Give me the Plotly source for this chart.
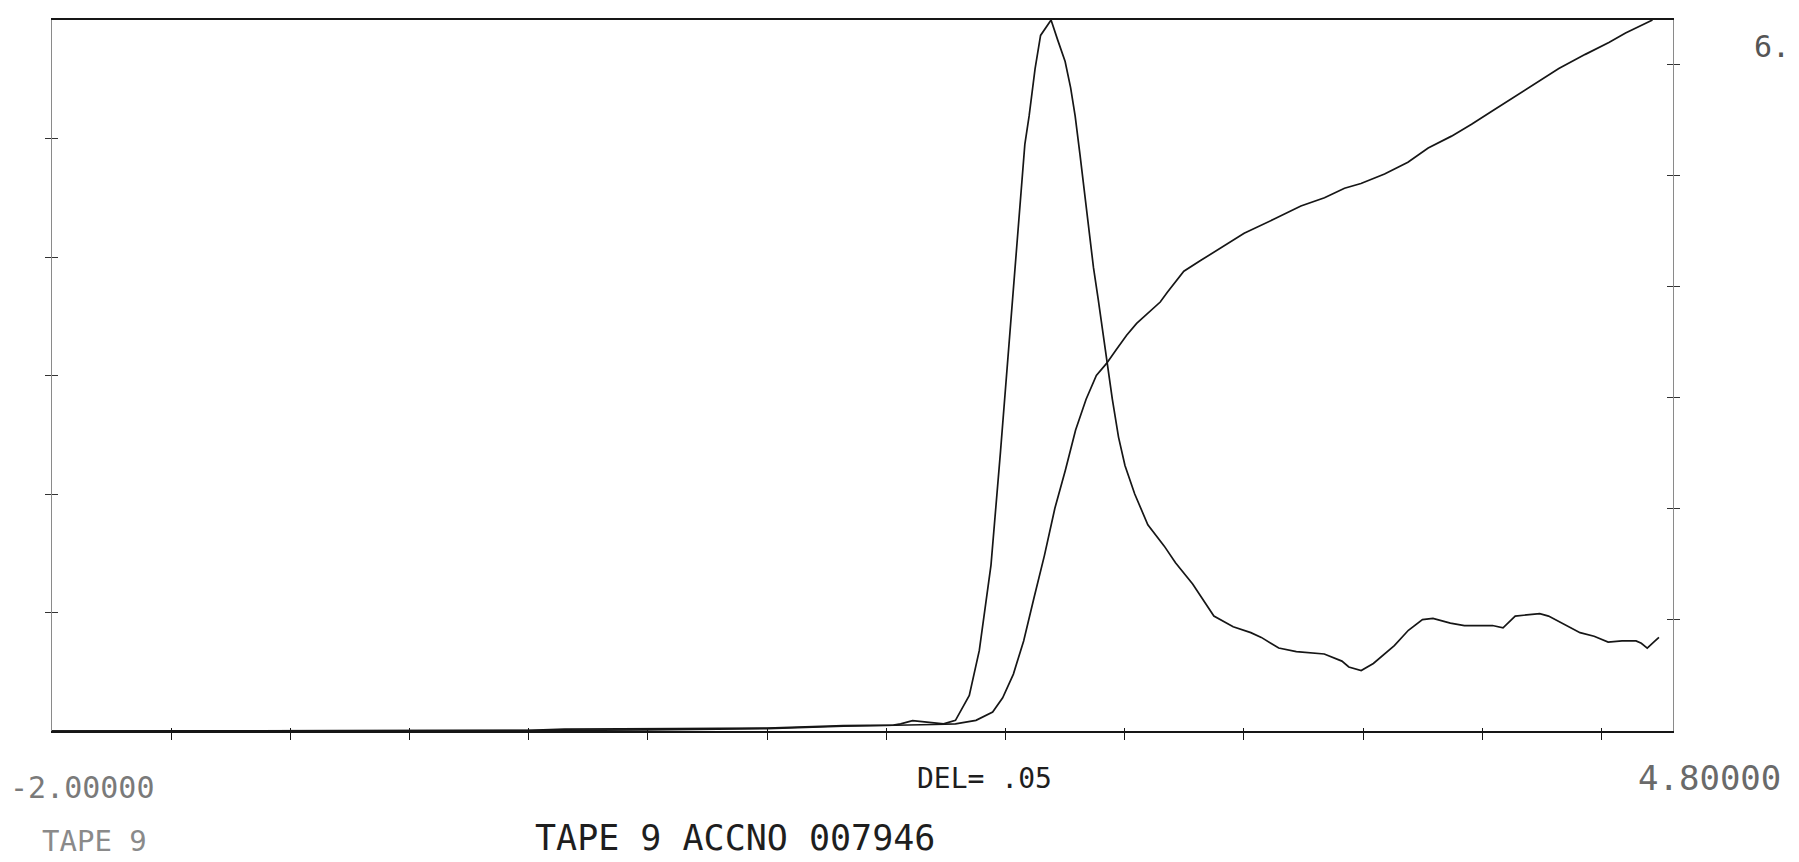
import plotly.graph_objects as go

# ---- data (x: -2.0 .. 4.8, y: 0 .. 6) ----
peak_x = [-2.0, -1.0, 0.0, 0.15, 0.37, 0.52, 0.62, 1.0, 1.32, 1.53, 1.56, 1.61, 1.67, 1.74,
          1.79, 1.848, 1.89, 1.939, 1.979, 2.010, 2.034, 2.058, 2.081, 2.099, 2.124, 2.147,
          2.191, 2.219, 2.250, 2.273, 2.292, 2.312, 2.344, 2.369, 2.389, 2.408, 2.428, 2.448,
          2.474, 2.501, 2.542, 2.597, 2.666, 2.713, 2.785, 2.874, 2.955, 3.029, 3.073, 3.146,
          3.220, 3.337, 3.411, 3.440, 3.492, 3.543, 3.631, 3.690, 3.749, 3.793, 3.866, 3.925,
          4.043, 4.087, 4.138, 4.190, 4.241, 4.278, 4.336, 4.410, 4.469, 4.528, 4.586, 4.645,
          4.667, 4.692, 4.719, 4.741]
peak_y = [0.0, 0.0, 0.005, 0.015, 0.015, 0.02, 0.02, 0.025, 0.045, 0.05, 0.06, 0.087, 0.075, 0.06,
          0.09, 0.30, 0.68, 1.40, 2.36, 3.16, 3.75, 4.39, 4.95, 5.19, 5.59, 5.87,
          6.0, 5.83, 5.65, 5.43, 5.19, 4.87, 4.31, 3.91, 3.64, 3.36, 3.08, 2.80,
          2.48, 2.24, 2.00, 1.74, 1.56, 1.42, 1.24, 0.97, 0.88, 0.83, 0.79, 0.70,
          0.67, 0.65, 0.59, 0.54, 0.51, 0.57, 0.72, 0.85, 0.94, 0.95, 0.91, 0.89,
          0.89, 0.87, 0.97, 0.98, 0.99, 0.97, 0.91, 0.83, 0.80, 0.75, 0.76, 0.76,
          0.74, 0.70, 0.75, 0.79]

cum_x = [-2.0, -1.0, 0.0, 0.5, 1.0, 1.32, 1.53, 1.6, 1.7, 1.79, 1.876, 1.946, 1.988, 2.033,
         2.076, 2.119, 2.163, 2.207, 2.251, 2.294, 2.338, 2.381, 2.423, 2.465, 2.508, 2.550,
         2.593, 2.649, 2.678, 2.748, 2.818, 2.888, 3.001, 3.127, 3.239, 3.338, 3.422, 3.491,
         3.590, 3.688, 3.773, 3.871, 3.955, 4.040, 4.095, 4.208, 4.321, 4.432, 4.531, 4.601,
         4.714]
cum_y = [0.0, 0.0, 0.003, 0.01, 0.02, 0.04, 0.045, 0.05, 0.055, 0.06, 0.09, 0.16, 0.28, 0.48,
         0.76, 1.12, 1.48, 1.88, 2.20, 2.54, 2.80, 3.00, 3.10, 3.22, 3.34, 3.44,
         3.52, 3.62, 3.70, 3.88, 3.97, 4.06, 4.20, 4.32, 4.43, 4.50, 4.58, 4.62,
         4.70, 4.80, 4.92, 5.02, 5.12, 5.23, 5.30, 5.45, 5.59, 5.71, 5.81, 5.89,
         6.0]

x_ticks = [-1.5, -1.0, -0.5, 0.0, 0.5, 1.0, 1.5, 2.0, 2.5, 3.0, 3.5, 4.0, 4.5]
left_ticks = [1, 2, 3, 4, 5]
right_ticks = [1, 2, 3, 4, 5, 6]

x_min_label = "-2.00000"
x_max_label = "4.80000"
y_max_label = "6."
del_label = "DEL= .05"
title_label = "TAPE 9 ACCNO 007946"
tape_label = "TAPE 9"

# ---- figure ----
W, H = 1799, 862
L, R, T, B = 52, 126, 20, 131
pw, ph = W - L - R, H - T - B

def px(x):
    return (x - L) / pw

def py(y):
    return (H - B - y) / ph

ink = "#161616"
fig = go.Figure()
fig.add_trace(go.Scatter(x=peak_x, y=peak_y, mode="lines",
                         line=dict(color=ink, width=1.7), hoverinfo="skip"))
fig.add_trace(go.Scatter(x=cum_x, y=cum_y, mode="lines",
                         line=dict(color=ink, width=1.7), hoverinfo="skip"))
# carriers for the extra tick axes (single points draw nothing)
for xa, ya in [("x2", "y"), ("x", "y2"), ("x", "y3"), ("x", "y4")]:
    fig.add_trace(go.Scatter(x=[-2.0], y=[0.0], mode="lines", xaxis=xa, yaxis=ya,
                             line=dict(color="rgba(0,0,0,0)"), hoverinfo="skip"))

common = dict(showgrid=False, zeroline=False, showticklabels=False)
fig.update_layout(
    width=W, height=H, margin=dict(l=L, r=R, t=T, b=B),
    paper_bgcolor="white", plot_bgcolor="white", showlegend=False,
    xaxis=dict(range=[-2.0, 4.8], tickvals=x_ticks, ticks="outside", ticklen=7,
               tickwidth=1.3, tickcolor=ink, showline=True, linecolor=ink,
               linewidth=1.6, mirror=True, **common),
    xaxis2=dict(range=[-2.0, 4.8], overlaying="x", matches="x", tickvals=x_ticks,
                ticks="inside", ticklen=3, tickwidth=1.3, tickcolor=ink,
                showline=False, **common),
    yaxis=dict(range=[0, 6], tickvals=left_ticks, ticks="outside", ticklen=6,
               tickwidth=1.3, tickcolor="#333", showline=True, linecolor="#8a8a8a",
               linewidth=1, **common),
    yaxis3=dict(range=[0, 6], overlaying="y", side="left", tickvals=left_ticks,
                ticks="inside", ticklen=6, tickwidth=1.3, tickcolor="#333",
                showline=False, **common),
    yaxis2=dict(range=[0, 6.4], overlaying="y", side="right", tickvals=right_ticks,
                ticks="outside", ticklen=6, tickwidth=1.3, tickcolor="#333",
                showline=True, linecolor="#8a8a8a", linewidth=1, **common),
    yaxis4=dict(range=[0, 6.4], overlaying="y", side="right", tickvals=right_ticks,
                ticks="inside", ticklen=6, tickwidth=1.3, tickcolor="#333",
                showline=False, **common),
)

mono = "DejaVu Sans Mono"
anns = [
    (x_min_label, 8, 787, 30, "#7a7a7a"),
    (tape_label, 40, 841, 29, "#8a8a8a"),
    (del_label, 915, 778, 28, "#1e1e1e"),
    (title_label, 533, 838, 35, "#1e1e1e"),
    (x_max_label, 1636, 778, 34, "#6a6a6a"),
    (y_max_label, 1752, 46, 30, "#555555"),
]
for text, x, y, size, color in anns:
    fig.add_annotation(text=text, xref="paper", yref="paper", x=px(x), y=py(y),
                       xanchor="left", yanchor="middle", showarrow=False,
                       font=dict(family=mono, size=size, color=color))

fig.write_html("out.html")
